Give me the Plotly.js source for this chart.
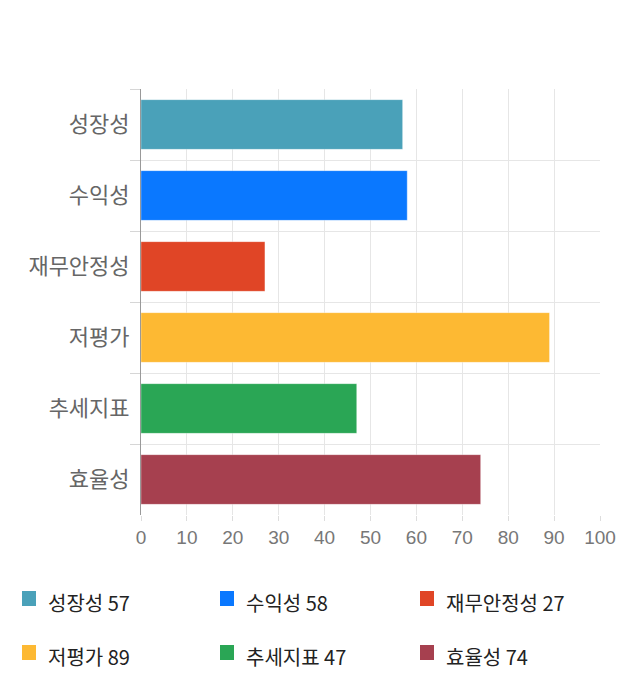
<!DOCTYPE html>
<html>
<head>
<meta charset="utf-8">
<script src="https://cdn.plot.ly/plotly-3.0.1.min.js"></script>
<style>
  body { margin: 0; background: #fff; }
  #graphDiv { width: 640px; height: 700px; }
</style>
</head>
<body>
<div id="graphDiv"></div>
<script>
const categories = ['성장성', '수익성', '재무안정성', '저평가', '추세지표', '효율성'];
const scores = [57, 58, 27, 89, 47, 74];
const colors = ['#4aa1b9', '#0a78ff', '#e04526', '#fdb933', '#2aa655', '#a6404f'];

drawGraph();

function drawGraph() {
  // plot area in pixels
  const L = 141, R = 600, T = 89, B = 515;
  const px = p => (p - L) / (R - L);
  const py = p => (B - p) / (B - T);

  const trace = {
    type: 'bar',
    orientation: 'h',
    y: categories,
    x: scores,
    marker: {color: colors, line: {color: 'rgba(255,255,255,0.35)', width: 1}},
    hoverinfo: 'none',
    showlegend: false
  };

  // legend built by hand: 3 columns, 2 rows
  const colX = [22, 220, 420];
  const rowY = [602, 656];
  const shapes = [];
  const annotations = [];
  categories.forEach((c, i) => {
    const cx = colX[i % 3], cy = rowY[Math.floor(i / 3)];
    shapes.push({
      type: 'rect', xref: 'paper', yref: 'paper',
      x0: px(cx), x1: px(cx + 14), y0: py(cy - 11), y1: py(cy + 4),
      fillcolor: colors[i], line: {width: 0}
    });
    annotations.push({
      xref: 'paper', yref: 'paper', x: px(cx + 24), y: py(cy),
      xanchor: 'left', yanchor: 'middle', showarrow: false,
      text: c + ' ' + scores[i],
      font: {family: 'Noto Sans CJK KR', size: 20, color: '#222'}
    });
  });

  const layout = {
    width: 640, height: 700,
    margin: {l: L, r: 640 - R, t: T, b: 700 - B},
    paper_bgcolor: '#fff', plot_bgcolor: '#fff',
    bargap: 0.3,
    xaxis: {
      range: [0, 100], dtick: 10, fixedrange: true,
      showgrid: true, gridcolor: '#e6e6e6', gridwidth: 1,
      zeroline: false,
      ticks: 'outside', ticklen: 5, tickcolor: '#dddddd',
      tickfont: {family: 'Liberation Sans, Arial', size: 19, color: '#777'}
    },
    yaxis: {
      type: 'category', autorange: 'reversed', fixedrange: true,
      tickson: 'boundaries', ticks: 'outside', ticklen: 10, tickcolor: '#d6d6d6',
      ticklabelstandoff: 6,
      showgrid: true, gridcolor: '#e6e6e6',
      showline: true, linecolor: '#999', linewidth: 1,
      tickfont: {family: 'Noto Sans CJK KR', size: 22, color: '#666'}
    },
    shapes: shapes,
    annotations: annotations
  };

  Plotly.newPlot('graphDiv', [trace], layout, {staticPlot: true});
}
</script>
</body>
</html>
